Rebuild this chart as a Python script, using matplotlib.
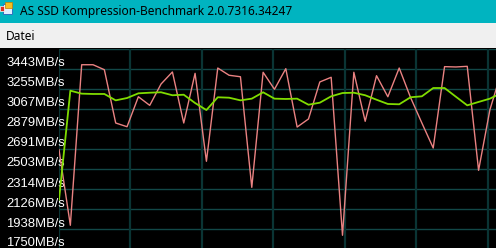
import numpy as np
import matplotlib
matplotlib.use('Agg')
from matplotlib import pyplot as plt
from matplotlib.patches import Rectangle

# benchmark values (MB/s), one sample per step
read_speed = [2684, 1973, 3483, 3483, 3436, 2935, 2900, 3182, 3101, 3302,
              3415, 2935, 3402, 2575, 3452, 3384, 3370, 2330, 3412, 3252,
              3446, 2897, 2973, 3321, 3365, 1879, 3412, 2951, 3380, 3182,
              3452, 3175, 2935, 2700, 3465, 3462, 3468, 2490, 3060, 3412]
avg_speed = [2214, 3239, 3211, 3208, 3208, 3148, 3170, 3214, 3220, 3224,
             3196, 3201, 3123, 3057, 3177, 3173, 3148, 3164, 3224, 3164,
             3161, 3164, 3107, 3126, 3186, 3217, 3220, 3196, 3154, 3114,
             3111, 3177, 3186, 3264, 3264, 3182, 3101, 3133, 3164, 3217]
y_ticks = [1750, 1938, 2126, 2314, 2503, 2691, 2879, 3067, 3255, 3443, 3631]
y_labels = ['1750MB/s', '1938MB/s', '2126MB/s', '2314MB/s', '2503MB/s',
            '2691MB/s', '2879MB/s', '3067MB/s', '3255MB/s', '3443MB/s']

title = 'AS SSD Kompression-Benchmark 2.0.7316.34247'
W, H = 496, 248

fig = plt.figure(figsize=(W / 100, H / 100), dpi=100, facecolor='black')

def px_rect(x, y, w, h, **kw):
    # rectangle given in screen pixels (origin top left)
    fig.add_artist(Rectangle((x / W, 1 - (y + h) / H), w / W, h / H,
                             transform=fig.transFigure, **kw))

# window chrome
px_rect(0, 0, W, 23, facecolor='#00b4c0', edgecolor='none')
px_rect(0, 23, W, 25, facecolor='#f0f0f0', edgecolor='none')
# little app icon
px_rect(3, 4, 9, 10, facecolor='#dfefff', edgecolor='#3070c0', linewidth=0.7)
px_rect(5, 2, 7, 6, facecolor='#f4c020', edgecolor='#c08000', linewidth=0.5)
px_rect(0, 6, 4, 5, facecolor='#e03020', edgecolor='white', linewidth=0.5)
fig.text(20 / W, 1 - 11.5 / H, title, fontsize=8.6, family='Noto Sans',
         color='black', va='center', ha='left')
fig.text(6 / W, 1 - 36 / H, 'Datei', fontsize=8.6, family='Noto Sans',
         color='black', va='center', ha='left')

# chart area
ax = fig.add_axes([59 / W, -1 / H, (W - 59) / W, 200 / H])
ax.set_facecolor('black')
x = np.arange(len(read_speed))
ax.set_xlim(0, (W - 59) / 11.34)
ax.set_ylim(y_ticks[0], y_ticks[-1])

for v in y_ticks:
    ax.axhline(v, color='#124848', lw=1.0, zorder=1)
for gx in np.arange(0, 40, 6.3):
    ax.axvline(gx, color='#0a3434', lw=1.6, zorder=1)

for v, lab in zip(y_ticks, y_labels):
    ax.annotate(lab, xy=(6, v), xycoords=('figure pixels', 'data'),
                xytext=(0, 2.5), textcoords='offset pixels',
                fontsize=9.4, family='Liberation Sans', color='white',
                va='baseline', ha='left', annotation_clip=False, zorder=2)

ax.plot(x, read_speed, color='#ea8282', lw=1.0, zorder=3, clip_on=True)
ax.plot(x, avg_speed, color='#80dc00', lw=1.3, zorder=4, clip_on=True)

ax.set_xticks([])
ax.set_yticks([])
for s in ax.spines.values():
    s.set_visible(False)

fig.savefig('out.png', dpi=100, facecolor=fig.get_facecolor())
